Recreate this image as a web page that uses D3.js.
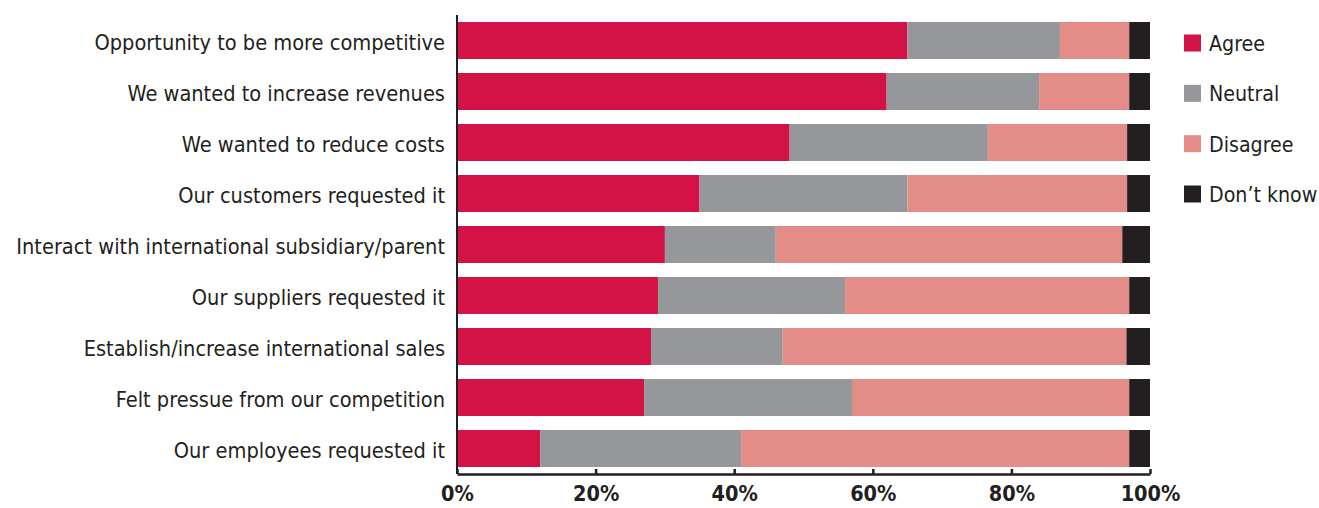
<!DOCTYPE html>
<html><head><meta charset="utf-8">
<script src="https://cdn.jsdelivr.net/npm/d3@7"></script>
<style>body{margin:0;background:#fff}svg{display:block}</style>
</head><body><svg id="c" width="1319" height="508"></svg>
<script>
const categories = [
  "Opportunity to be more competitive",
  "We wanted to increase revenues",
  "We wanted to reduce costs",
  "Our customers requested it",
  "Interact with international subsidiary/parent",
  "Our suppliers requested it",
  "Establish/increase international sales",
  "Felt pressue from our competition",
  "Our employees requested it"
];
const seriesNames = ["Agree", "Neutral", "Disagree", "Don\u2019t know"];
const agree    = [65, 62, 48, 35, 30, 29, 28, 27, 12];
const neutral  = [22, 22, 28.6, 30, 16, 27, 19, 30, 29];
const disagree = [10, 13, 20.1, 31.7, 50, 41, 49.6, 40, 56];
const dontKnow = [3, 3, 3.3, 3.3, 4, 3, 3.4, 3, 3];
const tickValues = [0, 20, 40, 60, 80, 100];
const colors = ["#D31245", "#96979B", "#E48C87", "#231F20"];

const svg = d3.select("#c");
const FONT = "'DejaVu Sans Condensed', 'DejaVu Sans', sans-serif";
const TEXT = "#231F20";
const x0 = 457, x1 = 1150, yTop = 15, yBot = 474;

const x = d3.scaleLinear().domain([0, 100]).range([x0, x1]);
const y = d3.scaleBand().domain(categories).range([yTop, yBot]).paddingInner(0.275).paddingOuter(0.1375);

const rows = categories.map((c, i) => ({cat: c, Agree: agree[i], Neutral: neutral[i], Disagree: disagree[i], "Don\u2019t know": dontKnow[i]}));
const stack = d3.stack().keys(seriesNames)(rows);

svg.append("g").selectAll("g").data(stack).join("g")
  .attr("fill", (d, i) => colors[i])
  .selectAll("rect").data(d => d).join("rect")
  .attr("x", d => x(d[0]))
  .attr("width", d => x(d[1]) - x(d[0]))
  .attr("y", d => y(d.data.cat))
  .attr("height", y.bandwidth());

// y axis
const gy = svg.append("g").attr("transform", `translate(${x0},0)`)
  .call(d3.axisLeft(y).tickSize(0).tickPadding(12));
gy.select(".domain").attr("stroke", TEXT).attr("stroke-width", 2).attr("d", `M0,${yTop}V${yBot}`);
gy.selectAll("text").attr("font-family", FONT).attr("font-size", 21.6).attr("fill", TEXT).attr("dy", "0.42em");

// x axis
const gx = svg.append("g").attr("transform", `translate(0,${yBot})`)
  .call(d3.axisBottom(x).tickValues(tickValues).tickFormat(d => d + "%").tickSize(-5).tickSizeOuter(0).tickPadding(12));
gx.select(".domain").attr("stroke", TEXT).attr("stroke-width", 2.5);
gx.selectAll(".tick line").attr("stroke", TEXT).attr("stroke-width", 2.5);
gx.selectAll("text").attr("font-family", FONT).attr("font-size", 21.5).attr("font-weight", "bold").attr("fill", TEXT);

// legend
const lg = svg.append("g").attr("transform", "translate(1184,0)");
const ly = d3.scalePoint().domain(seriesNames).range([43, 194]);
const items = lg.selectAll("g").data(seriesNames).join("g")
  .attr("transform", d => `translate(0,${ly(d)})`);
items.append("rect").attr("x", 0).attr("y", -8.5).attr("width", 17).attr("height", 17)
  .attr("fill", (d, i) => colors[i]);
items.append("text").attr("x", 25).attr("dy", "0.38em").text(d => d)
  .attr("font-family", FONT).attr("font-size", 21.2).attr("fill", TEXT);
</script></body></html>
